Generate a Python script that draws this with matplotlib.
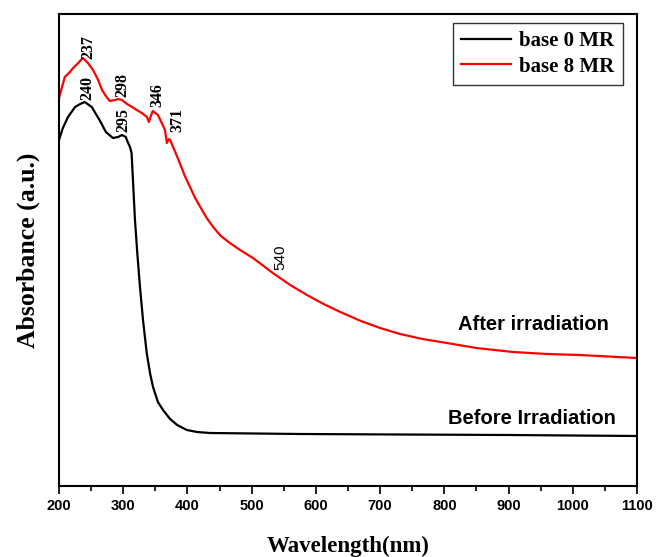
import matplotlib
matplotlib.use("Agg")
import matplotlib.pyplot as plt
from matplotlib.ticker import MultipleLocator

# Data (absorbance, arbitrary units)
wl_before = [200, 206, 214, 225, 233, 240, 251, 264, 273, 284, 292, 298, 304, 307, 310.5,
             313, 315.7, 318.3, 321.9, 326.1, 330.8, 336.6, 342, 346.4, 354, 362, 373,
             384, 399, 415, 435, 575, 731, 900, 1100]
px_before = [140, 128, 117, 107, 104, 102, 107, 121, 132, 138, 137, 135, 137, 142, 147,
             153, 187, 220, 253, 287, 320, 353, 374, 387, 402, 410, 419,
             425, 430, 432, 433, 434, 434.5, 435, 436]
abs_before = [(486 - p) / 200 for p in px_before]

wl_after = [200, 209, 217, 222, 230, 237, 245, 253, 261, 267, 273, 279, 287, 292, 298,
            306, 314, 321, 329, 337, 340, 343, 346, 354, 360, 365, 368, 371, 373, 381,
            388, 396, 404, 412, 420, 430, 440, 452, 466, 482, 502, 533, 560, 586, 612,
            638, 670, 700, 731, 766, 804, 850, 907, 960, 1011, 1100]
px_after = [98, 77, 72, 68, 63, 58, 63, 70, 80, 90, 96, 101, 100, 99, 100,
            104, 107, 110, 113, 117, 122, 116, 111, 115, 123, 130, 143, 139, 140, 152,
            163, 176, 187, 198, 207, 218, 227, 236, 243, 250, 258, 273, 285, 295, 304,
            312, 321, 328, 334, 339, 343, 348, 352, 354, 355, 358]
abs_after = [(486 - p) / 200 for p in px_after]

series_labels = ["base 0 MR", "base 8 MR"]

fig = plt.figure(figsize=(6.58, 5.57), dpi=100)
ax = fig.add_axes([59/658, 71/557, 578/658, 472/557])

ax.plot(wl_before, abs_before, color="black", lw=1.6, label=series_labels[0])
ax.plot(wl_after, abs_after, color="#ff0000", lw=1.6, label=series_labels[1])

ax.set_xlim(200, 1100)
ax.set_ylim(0, 472/200)

ax.xaxis.set_major_locator(MultipleLocator(100))
ax.xaxis.set_minor_locator(MultipleLocator(50))
ax.tick_params(axis="x", which="major", direction="out", length=6, width=1.2, pad=3)
ax.tick_params(axis="x", which="minor", direction="out", length=3.5, width=1.2)
ax.set_yticks([])
for s in ax.spines.values():
    s.set_linewidth(1.5)

for lab in ax.get_xticklabels():
    lab.set_fontfamily("Liberation Sans")
    lab.set_fontweight("bold")
    lab.set_fontsize(10.5)

ax.set_xlabel("Wavelength(nm)", fontfamily="Liberation Serif", fontweight="bold",
              fontsize=16.5, labelpad=17)
ax.set_ylabel("Absorbance (a.u.)", fontfamily="Liberation Serif", fontweight="bold",
              fontsize=18.5, labelpad=14)

def y_of(p):
    return (486 - p) / 200

serif = dict(fontfamily="Liberation Serif", fontweight="bold", fontsize=11.5,
             rotation=90, ha="center", va="center")
ax.text(245, y_of(47), "237", **serif)
ax.text(243.6, y_of(88), "240", **serif)
ax.text(298, y_of(85), "298", **serif)
ax.text(299.7, y_of(120), "295", **serif)
ax.text(352.6, y_of(95), "346", **serif)
ax.text(383.7, y_of(120), "371", **serif)
ax.text(544, y_of(257), "540", fontfamily="Liberation Sans", fontsize=11,
        rotation=90, ha="center", va="center")

ax.text(821, y_of(325), "After irradiation", fontfamily="Liberation Sans",
        fontweight="bold", fontsize=14.5, ha="left", va="center")
ax.text(806, y_of(418), "Before Irradiation", fontfamily="Liberation Sans",
        fontweight="bold", fontsize=14.5, ha="left", va="center")

leg = ax.legend(loc="upper right", bbox_to_anchor=(623/658, 534/557),
                bbox_transform=fig.transFigure, frameon=True, fancybox=False,
                prop=dict(family="Liberation Serif", weight="bold", size=15),
                handlelength=2.4, borderpad=0.4, labelspacing=0.25, handletextpad=0.4,
                borderaxespad=0)
leg.get_frame().set_edgecolor("black")
leg.get_frame().set_linewidth(1.0)

fig.savefig("out.png", dpi=100)
